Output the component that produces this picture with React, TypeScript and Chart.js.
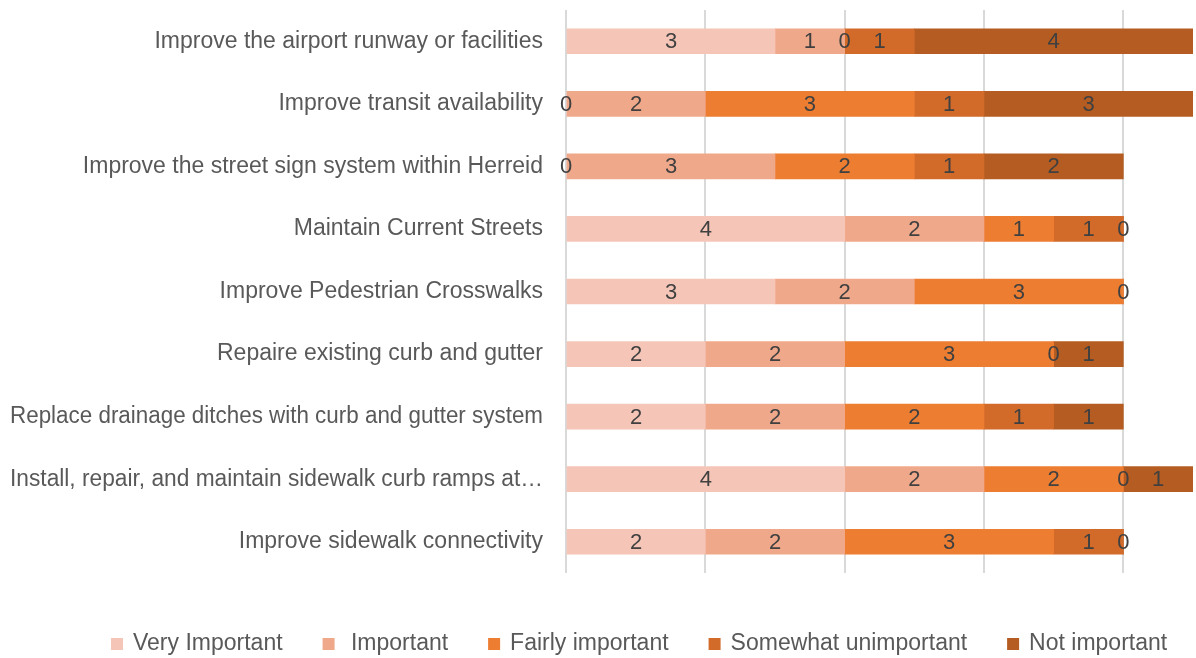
import React, { useEffect, useRef } from "react";
import { Chart, registerables } from "chart.js";

Chart.register(...registerables);

const categories = [
  "Improve the airport runway or facilities",
  "Improve transit availability",
  "Improve the street sign system within Herreid",
  "Maintain Current Streets",
  "Improve Pedestrian Crosswalks",
  "Repaire existing curb and gutter",
  "Replace drainage ditches with curb and gutter system",
  "Install, repair, and maintain sidewalk curb ramps at…",
  "Improve sidewalk connectivity",
];

const seriesNames = [
  "Very Important",
  " Important",
  "Fairly important",
  "Somewhat unimportant",
  "Not important",
];

const veryImportant = [3, 0, 0, 4, 3, 2, 2, 4, 2];
const important = [1, 2, 3, 2, 2, 2, 2, 2, 2];
const fairlyImportant = [0, 3, 2, 1, 3, 3, 2, 2, 3];
const somewhatUnimportant = [1, 1, 1, 1, 0, 0, 1, 0, 1];
const notImportant = [4, 3, 2, 0, null, 1, 1, 1, 0];

const seriesColors = ["#F5C6B7", "#F0A88A", "#ED7D31", "#D26B29", "#B45C21"];

const FONT = "'Liberation Sans', Arial, sans-serif";

const labelsPlugin = {
  id: "customLabels",
  afterDatasetsDraw(chart: any) {
    const ctx = chart.ctx;
    ctx.save();
    // data labels
    ctx.font = `22px ${FONT}`;
    ctx.fillStyle = "#404040";
    ctx.textAlign = "center";
    ctx.textBaseline = "middle";
    chart.data.datasets.forEach((ds: any, di: number) => {
      const meta = chart.getDatasetMeta(di);
      meta.data.forEach((el: any, i: number) => {
        const v = ds.data[i];
        if (v === null || v === undefined) return;
        const p = el.getProps(["x", "y", "base"], true);
        ctx.fillText(String(v), (p.x + p.base) / 2, p.y + 1);
      });
    });
    // category labels
    const yScale = chart.scales.y;
    ctx.font = `23px ${FONT}`;
    ctx.fillStyle = "#595959";
    ctx.textAlign = "right";
    const labelRight = chart.chartArea.left - 23;
    categories.forEach((c, i) => {
      ctx.fillText(c, labelRight, yScale.getPixelForValue(i), labelRight - 10);
    });
    // legend
    ctx.font = `23px ${FONT}`;
    ctx.textAlign = "left";
    const box = 12;
    const gapBoxText = 10;
    const gapItems = 40;
    const legendY = chart.chartArea.bottom + 71;
    let x = 111;
    seriesNames.forEach((name, i) => {
      ctx.fillStyle = seriesColors[i];
      ctx.fillRect(x, legendY - box / 2, box, box);
      x += box + gapBoxText;
      ctx.fillStyle = "#595959";
      ctx.fillText(name, x, legendY);
      x += ctx.measureText(name).width + gapItems;
    });
    ctx.restore();
  },
};

export default function App() {
  const ref = useRef<HTMLCanvasElement>(null);
  useEffect(() => {
    document.body.style.margin = "0";
    const allSeries = [veryImportant, important, fairlyImportant, somewhatUnimportant, notImportant];
    const chart = new Chart(ref.current!, {
      type: "bar",
      data: {
        labels: categories,
        datasets: allSeries.map((d, i) => ({
          label: seriesNames[i],
          data: d,
          backgroundColor: seriesColors[i],
          borderWidth: 0,
          barThickness: 25,
        })),
      },
      options: {
        indexAxis: "y",
        animation: false,
        responsive: false,
        maintainAspectRatio: false,
        layout: { padding: { top: 10, right: 3, bottom: 85, left: 0 } },
        scales: {
          x: {
            stacked: true,
            min: 0,
            max: 9,
            border: { display: false },
            ticks: { display: false, stepSize: 2 },
            grid: {
              drawTicks: false,
              lineWidth: 2,
              color: (c: any) => (c.tick && c.tick.value === 9 ? "rgba(0,0,0,0)" : "#D9D9D9"),
            },
            afterFit: (scale: any) => {
              scale.height = 0;
            },
          },
          y: {
            stacked: true,
            border: { display: false },
            grid: { display: false, drawTicks: false },
            ticks: { display: false },
            afterFit: (scale: any) => {
              scale.width = 566;
            },
          },
        },
        plugins: {
          tooltip: { enabled: false },
          legend: { display: false },
        },
      },
      plugins: [labelsPlugin],
    });
    return () => chart.destroy();
  }, []);
  return <canvas ref={ref} width={1196} height={658} style={{ display: "block" }} />;
}
